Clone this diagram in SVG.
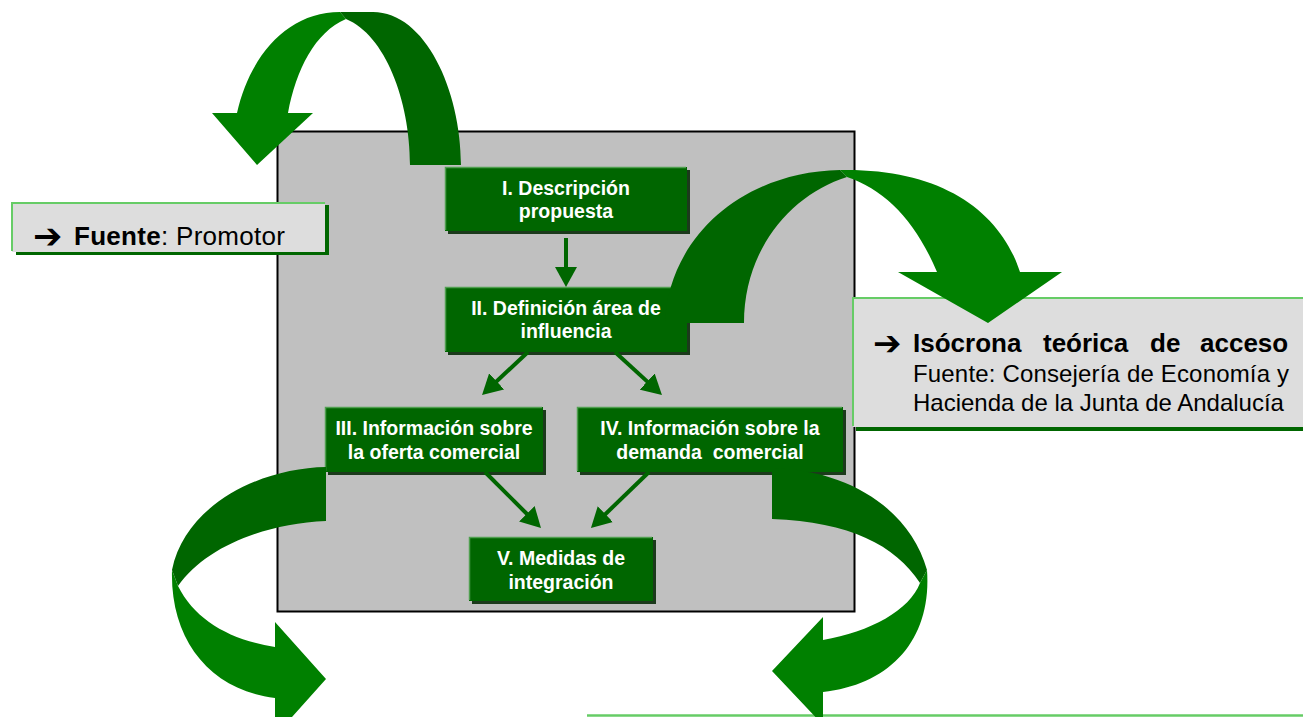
<svg xmlns="http://www.w3.org/2000/svg" width="1303" height="717" viewBox="0 0 1303 717">
<style>
.box{fill:#006600}
.sh{fill:#1c3a1c}
.hl{fill:none;stroke:#4f9f4f;stroke-width:1.5}
.bt{font-family:"Liberation Sans",Arial,sans-serif;font-weight:bold;font-size:19.5px;fill:#fff;text-anchor:middle}
.src{fill:#dddddd}
.srcsh{fill:#006600}
.srchl{fill:none;stroke:#66cc66;stroke-width:2}
.st{font-family:"Liberation Sans",Arial,sans-serif;fill:#000}
.ar{font-family:"DejaVu Sans",sans-serif;font-weight:bold;fill:#000}
.ln{stroke:#006600;stroke-width:4;fill:none}
.dk{fill:#006600}
.lt{fill:#008000}
</style>
<defs>
<marker id="ah" markerUnits="userSpaceOnUse" viewBox="0 0 20 22" markerWidth="20" markerHeight="22" refX="8" refY="11" orient="auto">
<path d="M0,0 L20,11 L0,22 Z" fill="#006600"/>
</marker>
</defs>
<rect width="1303" height="717" fill="#fff"/>
<g id="panel">
<rect x="277.5" y="131.5" width="577" height="480" fill="#c0c0c0" stroke="#000" stroke-width="2"/>
</g>
<g id="node-fuente-promotor">
<rect class="srcsh" x="16" y="205" width="313" height="50"/>
<rect class="src" x="12" y="202" width="313" height="50"/>
<polyline class="srchl" points="12,251 12,203 325,203"/>
<text class="ar" x="33" y="248" font-size="35">➔</text>
<text class="st" x="74" y="245" font-size="26" textLength="211" lengthAdjust="spacing"><tspan font-weight="bold">Fuente</tspan>: Promotor</text>
</g>
<g id="node-isocrona">
<rect class="srcsh" x="856" y="300" width="460" height="131"/>
<rect class="src" x="853" y="297" width="460" height="130"/>
<polyline class="srchl" points="853,426 853,298 1303,298"/>
<text class="ar" x="873" y="355" font-size="34">➔</text>
<g class="st" font-size="26" font-weight="bold">
<text x="913" y="352">Isócrona</text>
<text x="1043" y="352">teórica</text>
<text x="1150" y="352">de</text>
<text x="1200" y="352">acceso</text>
</g>
<text class="st" x="913" y="382" font-size="24" textLength="376" lengthAdjust="spacing">Fuente: Consejería de Economía y</text>
<text class="st" x="913" y="411" font-size="24">Hacienda de la Junta de Andalucía</text>
</g>
<g id="node-bottom-source">
<line x1="587" y1="715.5" x2="1303" y2="715.5" stroke="#66cc66" stroke-width="2.5"/>
</g>
<g id="node-I">
<rect class="sh" x="448" y="170" width="242" height="64"/>
<rect class="box" x="445" y="167" width="242" height="64"/>
<polyline class="hl" points="445.5,230 445.5,167.5 686,167.5"/>
<text class="bt" x="566" y="195">I. Descripción</text>
<text class="bt" x="566" y="218">propuesta</text>
</g>
<g id="node-II">
<rect class="sh" x="448" y="290" width="242" height="65"/>
<rect class="box" x="445" y="287" width="242" height="65"/>
<polyline class="hl" points="445.5,351 445.5,287.5 686,287.5"/>
<text class="bt" x="566" y="315">II. Definición área de</text>
<text class="bt" x="566" y="338">influencia</text>
</g>
<g id="node-III">
<rect class="sh" x="328" y="410" width="218" height="65"/>
<rect class="box" x="325" y="407" width="218" height="65"/>
<polyline class="hl" points="325.5,471 325.5,407.5 542,407.5"/>
<text class="bt" x="434" y="435">III. Información sobre</text>
<text class="bt" x="434" y="459">la oferta comercial</text>
</g>
<g id="node-IV">
<rect class="sh" x="580" y="410" width="266" height="65"/>
<rect class="box" x="577" y="407" width="266" height="65"/>
<polyline class="hl" points="577.5,471 577.5,407.5 842,407.5"/>
<text class="bt" x="710" y="435">IV. Información sobre la</text>
<text class="bt" x="710" y="459" xml:space="preserve">demanda  comercial</text>
</g>
<g id="node-V">
<rect class="sh" x="472" y="540" width="184" height="64"/>
<rect class="box" x="469" y="537" width="184" height="64"/>
<polyline class="hl" points="469.5,600 469.5,537.5 652,537.5"/>
<text class="bt" x="561" y="565">V. Medidas de</text>
<text class="bt" x="561" y="589">integración</text>
</g>
<g id="connectors">
<line class="ln" x1="566" y1="238" x2="566" y2="275" marker-end="url(#ah)"/>
<line class="ln" x1="528" y1="352" x2="490.8" y2="386.8" marker-end="url(#ah)"/>
<line class="ln" x1="615" y1="352" x2="653.1" y2="386.9" marker-end="url(#ah)"/>
<line class="ln" x1="485" y1="472" x2="532.5" y2="519.5" marker-end="url(#ah)"/>
<line class="ln" x1="649" y1="472" x2="599.6" y2="519.7" marker-end="url(#ah)"/>
<g id="curved-top-left">
<path class="lt" d="M340,12 C288,12 250,55 237,113 L212,113 L257,165 L313,113 L288,113 C296,70 315,32 346,19 Z"/>
<path class="dk" d="M340,12 L373,12 C425,12 461,90 461,165 L410,165 C410,100 385,35 346,19 Z"/>
</g>
<g id="curved-top-right">
<path class="dk" d="M665,323 C668,240 740,172 840,170 L847,177 C790,195 744,250 744,323 Z"/>
<path class="lt" d="M840,170 C940,168 1000,210 1020,272 L1062,272 L988,323 L898,272 L937,272 C915,220 885,190 847,177 Z"/>
</g>
<g id="curved-bottom-left">
<path class="dk" d="M326,467 L326,521 C262,524 205,548 178,586 L172,570 C185,505 260,468 326,467 Z"/>
<path class="lt" d="M172,570 C170,640 210,690 275,698 L275,736 L326,679 L275,622 L275,647 C230,640 195,620 178,586 Z"/>
</g>
<g id="curved-bottom-right">
<path class="dk" d="M772,468 C850,470 910,510 927,570 L920,583 C895,545 850,522 772,519 Z"/>
<path class="lt" d="M927,570 C932,640 890,685 823,692 L823,725 L772,671 L823,617 L823,640 C870,632 910,610 920,583 Z"/>
</g>
</g>
</svg>
